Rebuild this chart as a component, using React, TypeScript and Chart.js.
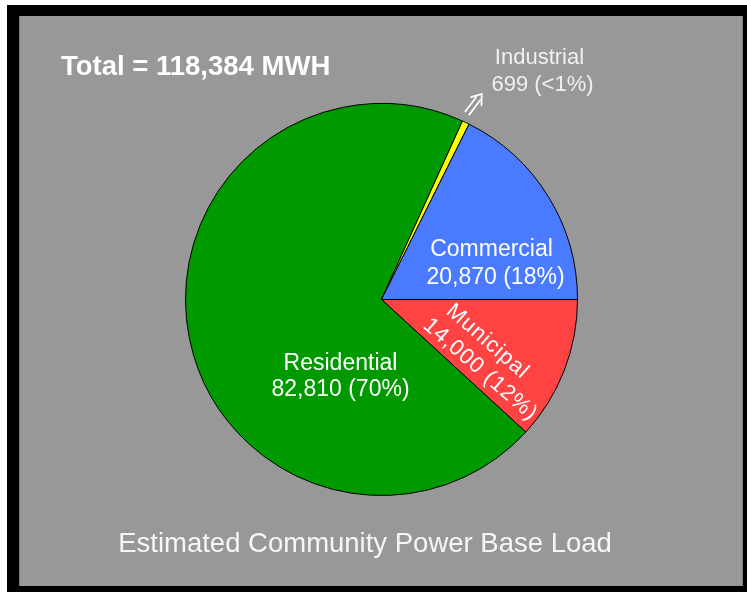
import React, { useEffect, useRef } from "react";
import { Chart, registerables } from "chart.js";

Chart.register(...registerables);

const categories = ["Municipal", "Residential", "Industrial", "Commercial"];
const values = [14000, 82810, 699, 20870];
const valueLabels = ["14,000 (12%)", "82,810 (70%)", "699 (<1%)", "20,870 (18%)"];
const totalLabel = "Total = 118,384 MWH";
const chartTitle = "Estimated Community Power Base Load";

const sliceColors = ["#FF4242", "#009900", "#FFFF00", "#4A7AFF"];

const FONT = '"Liberation Sans", Arial, sans-serif';

const framePlugin = {
  id: "frame",
  beforeDraw(chart: any) {
    const ctx = chart.ctx;
    ctx.save();
    ctx.fillStyle = "#ffffff";
    ctx.fillRect(0, 0, 747, 592);
    ctx.fillStyle = "#000000";
    ctx.fillRect(7, 5, 740, 587);
    ctx.fillStyle = "#7a7a7a";
    ctx.fillRect(19, 16, 724, 570);
    ctx.fillStyle = "#989898";
    ctx.fillRect(20, 16, 722, 570);
    ctx.restore();
  },
};

const labelPlugin = {
  id: "labels",
  afterDraw(chart: any) {
    const ctx = chart.ctx;
    const meta = chart.getDatasetMeta(0);
    const arc = meta.data[0];
    const cx = arc.x;
    const cy = arc.y;
    ctx.save();
    ctx.textAlign = "center";
    ctx.textBaseline = "alphabetic";

    // Total
    ctx.fillStyle = "#ffffff";
    ctx.textAlign = "left";
    ctx.font = `bold 27.5px ${FONT}`;
    ctx.fillText(totalLabel, 61, 75);

    // Title
    ctx.textAlign = "center";
    ctx.font = `27.5px ${FONT}`;
    ctx.fillStyle = "#f6f6f6";
    ctx.fillText(chartTitle, 365, 552);

    // Commercial
    ctx.font = `23px ${FONT}`;
    ctx.fillStyle = "#ffffff";
    ctx.fillText(categories[3], cx + 110, cy - 44);
    ctx.fillText(valueLabels[3], cx + 114, cy - 16);

    // Residential
    ctx.fillText(categories[1], cx - 41, cy + 70);
    ctx.fillText(valueLabels[1], cx - 41, cy + 96);

    // Industrial
    ctx.font = `22px ${FONT}`;
    ctx.fillStyle = "#f0f0f0";
    ctx.fillText(categories[2], cx + 158, cy - 236);
    ctx.fillText(valueLabels[2], cx + 161, cy - 209);

    // Arrow (double-shaft, pointing up-right)
    ctx.save();
    ctx.translate(cx + 93, cy - 196);
    ctx.rotate((37 * Math.PI) / 180);
    ctx.strokeStyle = "#ffffff";
    ctx.lineWidth = 1.8;
    ctx.lineCap = "round";
    ctx.lineJoin = "miter";
    ctx.beginPath();
    ctx.moveTo(-2.5, 12);
    ctx.lineTo(-2.5, -6);
    ctx.moveTo(2.5, 12);
    ctx.lineTo(2.5, -6);
    ctx.moveTo(-6.5, -3);
    ctx.lineTo(0, -12);
    ctx.lineTo(6.5, -3);
    ctx.stroke();
    ctx.restore();

    // Municipal (rotated)
    ctx.save();
    ctx.translate(cx + 106, cy + 42);
    ctx.rotate((41 * Math.PI) / 180);
    ctx.font = `22px ${FONT}`;
    ctx.fillStyle = "#ffffff";
    ctx.textBaseline = "middle";
    (ctx as any).letterSpacing = "1px";
    ctx.fillText(categories[0], 0, 0);
    ctx.fillText(valueLabels[0], 13, 26);
    ctx.restore();

    ctx.restore();
  },
};

export default function App() {
  const ref = useRef<HTMLCanvasElement | null>(null);
  useEffect(() => {
    if (!ref.current) return;
    const chart = new Chart(ref.current, {
      type: "pie",
      data: {
        labels: categories,
        datasets: [
          {
            data: values,
            backgroundColor: sliceColors,
            borderColor: "#000000",
            borderWidth: 1,
          },
        ],
      },
      options: {
        responsive: false,
        animation: false,
        rotation: 90,
        layout: { padding: { left: 185, right: 169, top: 103, bottom: 96 } },
        plugins: {
          legend: { display: false },
          tooltip: { enabled: false },
          title: { display: false },
        },
      },
      plugins: [framePlugin, labelPlugin],
    });
    return () => chart.destroy();
  }, []);
  return (
    <div style={{ position: "fixed", left: 0, top: 0, width: 747, height: 592 }}>
      <canvas ref={ref} width={747} height={592} style={{ width: 747, height: 592, display: "block" }} />
    </div>
  );
}
